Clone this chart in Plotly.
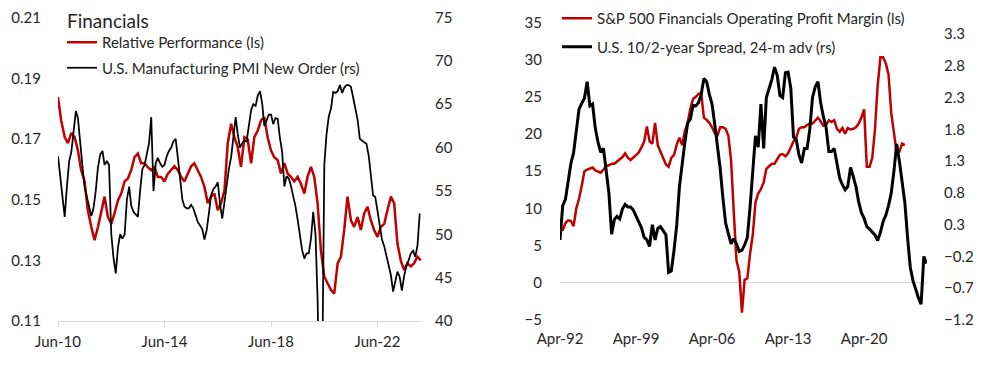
import pandas as pd
import plotly.graph_objects as go

# ---------------- Left chart: Financials ----------------
# Relative performance (ls), sampled every 1.5 months from Jun-2010
rel_perf = [
    0.1838, 0.1760, 0.1706, 0.1686, 0.1720, 0.1706, 0.1662, 0.1597, 0.1560, 0.1465,
    0.1410, 0.1366, 0.1410, 0.1455, 0.1510, 0.1443, 0.1420, 0.1455, 0.1498, 0.1520,
    0.1560, 0.1570, 0.1597, 0.1640, 0.1652, 0.1620, 0.1620, 0.1607, 0.1597, 0.1607,
    0.1575, 0.1575, 0.1560, 0.1585, 0.1597, 0.1610, 0.1597, 0.1575, 0.1560, 0.1585,
    0.1610, 0.1620, 0.1597, 0.1575, 0.1542, 0.1488, 0.1510, 0.1520, 0.1465, 0.1488,
    0.1531, 0.1686, 0.1750, 0.1706, 0.1673,
    0.1608, 0.1706, 0.1700, 0.1620, 0.1706, 0.1728, 0.1761, 0.1772, 0.1706, 0.1662,
    0.1640, 0.1630, 0.1586, 0.1620, 0.1586, 0.1575, 0.1560, 0.1575, 0.1553, 0.1520,
    0.1575, 0.1608, 0.1575, 0.1488, 0.1334, 0.1246, 0.1225, 0.1202, 0.1190, 0.1290,
    0.1312, 0.1400, 0.1510, 0.1432, 0.1410, 0.1443, 0.1400, 0.1455, 0.1476, 0.1432,
    0.1400, 0.1377, 0.1410, 0.1420, 0.1465, 0.1510, 0.1488, 0.1356, 0.1300, 0.1268,
    0.1290, 0.1280, 0.1290, 0.1312, 0.1300,
]
rel_dates = pd.date_range("2010-06-01", periods=len(rel_perf) * 3, freq="SMS")[::3]

# U.S. Manufacturing PMI New Orders (rs), monthly from Jun-2010
pmi_new_orders = [
    59.0, 56.6, 53.8, 52.0, 55.5, 58.4, 59.5, 62.0, 64.2, 63.4,
    61.0, 58.0, 55.4, 54.2, 53.3, 52.1, 53.0, 55.0, 57.7, 59.2,
    59.6, 58.0, 58.4, 58.0, 50.0, 47.3, 45.5, 48.5, 50.0, 49.5,
    50.0, 54.0, 55.5, 53.3, 52.6, 52.3, 52.0, 55.0, 57.5, 58.0,
    59.4, 60.5, 63.5, 55.0, 58.2, 58.8, 58.2, 57.8, 58.0, 59.0,
    59.6, 60.0, 60.7, 61.0, 58.8, 56.3, 54.0, 53.2, 53.0, 53.0,
    53.4, 53.0, 52.3, 51.4, 51.0, 50.6, 49.4, 50.5, 52.5, 54.5,
    55.2, 55.5, 56.0, 53.5, 51.8, 54.0, 55.8, 57.6, 58.9, 61.5,
    63.5, 61.6, 60.0, 60.5, 60.8, 60.7, 62.8, 64.3, 65.0, 64.8,
    66.0, 66.5, 65.0, 62.5, 63.1, 63.8, 63.8, 62.7, 63.4, 63.3,
    61.1, 59.5, 55.5, 56.7, 56.4, 55.6, 54.4, 53.3, 51.7, 50.2,
    48.2, 47.2, 47.8, 47.8, 49.5, 52.6, 50.0, 42.5, 27.1, 31.8,
    58.0, 61.5, 63.6, 64.5, 66.4, 66.3, 66.5, 67.2, 66.3, 66.9,
    67.2, 67.2, 67.0, 65.8, 64.5, 63.2, 61.0, 60.8, 60.6, 60.4,
    59.0, 57.0, 54.5, 54.3, 52.5, 50.8, 49.4, 48.6, 47.5, 46.5,
    45.3, 43.4, 44.8, 45.7, 45.1, 43.5, 45.2, 46.3, 47.0, 47.8,
    48.1, 47.4, 48.7, 52.4,
]
pmi_dates = pd.date_range("2010-06-01", periods=len(pmi_new_orders), freq="MS")

# ---------------- Right chart ----------------
# S&P 500 Financials operating profit margin (ls), quarterly from Apr-1992
op_margin = [
    7.1, 7.1, 8.0, 8.4, 8.3, 7.6, 10.0, 11.3, 13.0, 15.0,
    15.2, 15.3, 15.5, 15.1, 15.0, 14.8, 15.2, 15.7, 15.8, 16.0,
    16.0, 16.3, 16.6, 16.9, 17.4, 16.8, 16.5, 16.8, 17.1, 17.5,
    18.2, 19.0, 21.0, 19.0, 18.7, 21.5, 18.5, 17.6, 16.8, 15.9,
    15.6, 16.8, 17.2, 18.6, 19.5, 18.5, 20.4, 21.5, 23.4, 24.7,
    25.0, 25.4, 25.5, 22.2, 21.9, 21.5, 20.9, 20.1, 19.8, 20.9,
    20.9, 20.7, 19.8, 16.5, 9.5, 3.0, 1.5, -4.0, 0.4, 0.6,
    3.9, 6.5, 10.8, 12.0, 12.6, 13.5, 15.3, 15.6, 16.0, 16.0,
    16.6, 17.2, 17.3, 17.0, 17.4, 18.3, 19.0, 19.5, 20.7, 20.9,
    20.9, 21.2, 21.4, 21.4, 21.85, 22.2, 21.7, 21.1, 21.2, 21.85,
    21.6, 21.85, 20.7, 20.3, 20.8, 20.05, 20.8, 20.6, 20.7, 20.9,
    21.4, 22.2, 23.3, 15.6, 15.6, 16.8, 20.6, 26.5, 30.3, 30.3,
    29.5, 28.0, 22.8, 20.2, 17.5, 17.6, 18.7, 18.5,
]
margin_dates = pd.date_range("1992-04-01", periods=len(op_margin), freq="QS-JAN")

# U.S. 10/2-year spread, 24-month advanced (rs), quarterly from Apr-1992
spread_adv = [
    0.06, 0.60, 0.70, 1.00, 1.26, 1.43, 1.80, 2.12, 2.21, 2.29,
    2.55, 2.17, 2.20, 1.82, 1.60, 1.44, 1.50, 1.12, 0.80, 0.15,
    0.38, 0.43, 0.39, 0.55, 0.62, 0.58, 0.58, 0.53, 0.44, 0.36,
    0.25, 0.10, 0.06, -0.04, 0.30, 0.06, 0.24, 0.27, 0.20, 0.14,
    -0.45, -0.43, -0.10, 0.30, 0.90, 1.30, 1.60, 1.90, 1.96, 2.18,
    2.17, 2.22, 2.35, 2.60, 2.55, 2.35, 2.20, 1.88, 1.52, 1.18,
    0.72, 0.33, 0.16, 0.00, 0.08, 0.00, -0.12, -0.10, -0.02, 0.10,
    0.58, 1.20, 1.70, 1.52, 2.20, 1.50, 2.30, 2.44, 2.58, 2.78,
    2.65, 2.33, 2.30, 2.69, 2.70, 2.45, 1.68, 1.64, 1.40, 1.27,
    1.50, 1.50, 1.80, 2.30, 2.47, 2.55, 2.22, 2.00, 1.83, 1.45,
    1.45, 1.50, 1.25, 1.03, 0.93, 0.85, 0.90, 1.20, 1.06, 0.90,
    0.66, 0.49, 0.40, 0.27, 0.23, 0.18, 0.14, 0.05, 0.18, 0.35,
    0.45, 0.60, 0.80, 1.15, 1.57, 1.30, 0.98, 0.65, 0.10, -0.37,
    -0.58, -0.72, -0.85, -0.95, -0.20, -0.31,
]
spread_dates = pd.date_range("1992-04-01", periods=len(spread_adv), freq="QS-JAN")

RED = "#C00000"
BLACK = "#000000"
FONT = "Lato"
TXT = "#262626"
OFF = 8                      # default page (body) margin
W, H = 989 - 2 * OFF, 375 - 2 * OFF

def px_x(p):
    return (p - OFF) / W

def px_y(p):
    return 1 - (p - OFF) / H

fig = go.Figure()

fig.add_trace(go.Scatter(x=rel_dates, y=rel_perf, mode="lines", name="Relative Performance (ls)",
                         line=dict(color=RED, width=2.5), xaxis="x", yaxis="y", legend="legend",
                         legendgroup="a"))
fig.add_trace(go.Scatter(x=pmi_dates, y=pmi_new_orders, mode="lines", name="U.S. Manufacturing PMI New Order (rs)",
                         line=dict(color=BLACK, width=1.75), xaxis="x", yaxis="y2", legend="legend",
                         legendgroup="b"))
fig.add_trace(go.Scatter(x=margin_dates, y=op_margin, mode="lines", name="S&P 500 Financials Operating Profit Margin (ls)",
                         line=dict(color=RED, width=2.5), xaxis="x2", yaxis="y3", legend="legend2",
                         legendgroup="c"))
fig.add_trace(go.Scatter(x=spread_dates, y=spread_adv, mode="lines", name="U.S. 10/2-year Spread, 24-m adv (rs)",
                         line=dict(color=BLACK, width=3), xaxis="x2", yaxis="y4", legend="legend2",
                         legendgroup="d"))

tickfont = dict(family=FONT, size=15, color=TXT)
ydom_l = [px_y(321), px_y(17)]
ydom_r = [px_y(320), px_y(22)]

fig.update_layout(
    width=W, height=H,
    margin=dict(l=0, r=0, t=0, b=0, autoexpand=False),
    paper_bgcolor="white", plot_bgcolor="white",
    font=dict(family=FONT, size=15, color=TXT),
    showlegend=True,
    xaxis=dict(domain=[px_x(58), px_x(422)], type="date",
               range=["2010-06-01", "2024-02-01"],
               tick0="2010-06-01", dtick="M48", tickformat="%b-%y",
               showline=True, linecolor="#d9d9d9", linewidth=1,
               ticks="outside", ticklen=5, tickcolor="#d9d9d9",
               showgrid=False, zeroline=False, tickfont=tickfont,
               ticklabelstandoff=2, anchor="y", automargin=False,
               ticklabeloverflow="allow"),
    yaxis=dict(domain=ydom_l, range=[0.11, 0.2102], tick0=0.11, dtick=0.02,
               tickformat=".2f", showgrid=False, zeroline=False, showline=False,
               tickfont=tickfont, ticklabelstandoff=16, anchor="x", automargin=False,
               ticklabeloverflow="allow"),
    yaxis2=dict(domain=ydom_l, range=[40, 75.05], tick0=40, dtick=5,
                overlaying="y", side="right", anchor="x", showgrid=False, zeroline=False,
                showline=False, tickfont=tickfont, ticklabelstandoff=12, automargin=False,
                ticklabeloverflow="allow"),
    xaxis2=dict(domain=[px_x(560), px_x(927)], type="date",
                range=["1992-04-01", "2026-01-15"],
                tick0="1992-04-01", dtick="M84", tickformat="%b-%y",
                showline=False, ticks="", showgrid=False, zeroline=False,
                tickfont=tickfont, ticklabelstandoff=8, anchor="y3", automargin=False,
                ticklabeloverflow="allow"),
    yaxis3=dict(domain=ydom_r, range=[-5, 35.05], tick0=-5, dtick=5,
                showgrid=False, zeroline=True, zerolinecolor="#d9d9d9", zerolinewidth=1,
                showline=False, tickfont=tickfont, ticklabelstandoff=17, anchor="x2",
                automargin=False, ticklabeloverflow="allow"),
    yaxis4=dict(domain=ydom_r, range=[-1.2, 3.49], tick0=-1.2, dtick=0.5,
                tickformat=".1f", overlaying="y3", side="right", anchor="x2",
                showgrid=False, zeroline=False, showline=False, tickfont=tickfont,
                ticklabelstandoff=16, automargin=False, ticklabeloverflow="allow"),
    legend=dict(x=px_x(62), y=px_y(26), xanchor="left", yanchor="top",
                bgcolor="rgba(0,0,0,0)", font=dict(family=FONT, size=15, color=TXT),
                tracegroupgap=3, itemwidth=30),
    legend2=dict(x=px_x(557), y=px_y(2), xanchor="left", yanchor="top",
                 bgcolor="rgba(0,0,0,0)", font=dict(family=FONT, size=15, color=TXT),
                 tracegroupgap=6, itemwidth=30),
    annotations=[dict(text="Financials", x=px_x(65), y=px_y(20), xref="paper", yref="paper",
                      xanchor="left", yanchor="middle", showarrow=False,
                      font=dict(family=FONT, size=19, color=TXT))],
)

fig.write_html("out.html")
